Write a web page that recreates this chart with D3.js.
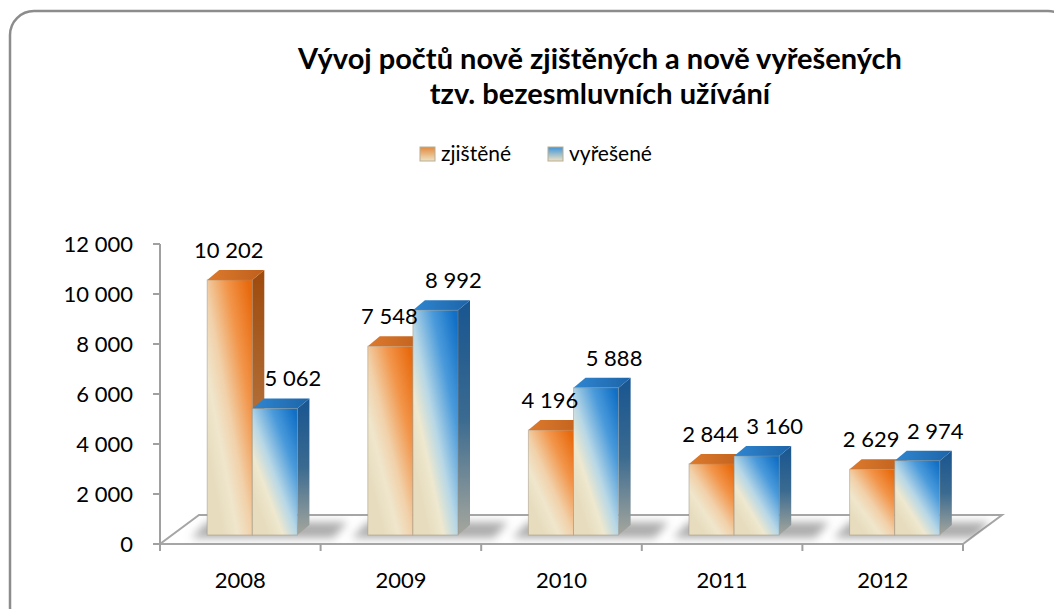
<!DOCTYPE html>
<html>
<head>
<meta charset="utf-8">
<script src="https://cdn.jsdelivr.net/npm/d3@7"></script>
<style>
  body { margin: 0; background: #fff; }
  svg text { font-family: Lato, "Open Sans", sans-serif; }
</style>
</head>
<body>
<div id="chart"></div>
<script>
// data
var years = ["2008", "2009", "2010", "2011", "2012"];
var series = ["zjištěné", "vyřešené"];
var zjistene = [10202, 7548, 4196, 2844, 2629];
var vyresene = [5062, 8992, 5888, 3160, 2974];
var yTicks = [0, 2000, 4000, 6000, 8000, 10000, 12000];
var titleLines = ["Vývoj počtů nově zjištěných a nově vyřešených", "tzv. bezesmluvních užívání"];

var W = 1054, H = 609;
var fmt = function(v){ return d3.format(",")(v).replace(/,/g, " "); };

var svg = d3.select("#chart").append("svg")
    .attr("width", W).attr("height", H);

var defs = svg.append("defs");

// gradients for the 3d bars
function grad(id, x1, y1, x2, y2, stops){
  var g = defs.append("linearGradient").attr("id", id)
    .attr("x1", x1).attr("y1", y1).attr("x2", x2).attr("y2", y2);
  stops.forEach(function(s){
    g.append("stop").attr("offset", s[0]).attr("stop-color", s[1]);
  });
}
grad("frontO", 0.9, 0, 0.15, 0.8, [[0, "#e86a0e"], [0.3, "#f2954a"], [0.6, "#f1d1aa"], [0.8, "#efe6cc"], [1, "#e7dcbe"]]);
grad("frontB", 0.9, 0, 0.15, 0.8, [[0, "#1170c6"], [0.3, "#4b9bdb"], [0.6, "#b7d7e6"], [0.8, "#eee8cf"], [1, "#e7dcbe"]]);
grad("sideO", 0, 0, 0, 1, [[0, "#9e4a0c"], [0.5, "#b06c34"], [1, "#b9af97"]]);
grad("sideB", 0, 0, 0, 1, [[0, "#185590"], [0.5, "#3a6a90"], [1, "#a6a79d"]]);
grad("topO", 0, 0, 1, 0, [[0, "#dc7a2e"], [1, "#bf5f1b"]]);
grad("topB", 0, 0, 1, 0, [[0, "#2f86d0"], [1, "#1d64a8"]]);
grad("legO", 0, 0, 0, 1, [[0, "#e2893c"], [1, "#efe3c4"]]);
grad("legB", 0, 0, 0, 1, [[0, "#3f94d8"], [1, "#efe3c4"]]);

defs.append("filter").attr("id", "blur")
  .attr("x", "-50%").attr("y", "-50%").attr("width", "200%").attr("height", "200%")
  .append("feGaussianBlur").attr("stdDeviation", 4);

// outer rounded frame (runs off the right and bottom edge)
svg.append("rect")
  .attr("x", 10).attr("y", 11).attr("width", 1062).attr("height", 620)
  .attr("rx", 24).attr("ry", 24)
  .attr("fill", "none").attr("stroke", "#8c8c8c").attr("stroke-width", 2.5);

// title
svg.append("text")
  .attr("x", 600).attr("y", 69)
  .attr("text-anchor", "middle")
  .style("font-size", "29px").style("font-weight", "bold")
  .selectAll("tspan").data(titleLines).enter().append("tspan")
    .attr("x", 600).attr("dy", function(d, i){ return i ? 35 : 0; })
    .text(function(d){ return d; });

// legend
var legX = [420, 548];
var legend = svg.append("g").selectAll("g").data(series).enter().append("g")
  .attr("transform", function(d, i){ return "translate(" + legX[i] + ",147)"; });
legend.append("rect")
  .attr("width", 15).attr("height", 14)
  .attr("fill", function(d, i){ return i ? "url(#legB)" : "url(#legO)"; })
  .attr("stroke", "#b8ad95").attr("stroke-width", 1);
legend.append("text")
  .attr("x", 21).attr("y", 14)
  .style("font-size", "21px")
  .text(function(d){ return d; });

// geometry of the plot: front plane + depth offset
var x0 = 160, x1 = 963, y0 = 544, yTop = 244;
var depthX = 39, depthY = -29;     // full floor depth
var barDX = 12, barDY = -9;        // bar front face sits this deep
var sideDX = 12, sideDY = -10;     // bar thickness in depth

var x = d3.scaleBand().domain(years).range([x0, x1]);
var inner = d3.scaleBand().domain(series).range([0, x.bandwidth()]).paddingOuter(0.78);
var y = d3.scaleLinear().domain([0, 12000]).range([y0, yTop]);

// floor
var floor = [[x0, y0], [x1, y0], [x1 + depthX, y0 + depthY], [x0 + depthX, y0 + depthY]];
svg.append("polygon")
  .attr("points", floor.join(" "))
  .attr("fill", "#fff").attr("stroke", "#a6a6a6").attr("stroke-width", 2);

defs.append("clipPath").attr("id", "floorClip")
  .append("polygon").attr("points", floor.join(" "));

// soft shadows of bar groups on the floor
var shadows = svg.append("g").attr("clip-path", "url(#floorClip)")
  .append("g").attr("filter", "url(#blur)");
years.forEach(function(yr){
  var gl = x(yr) + inner("zjištěné") + barDX;
  var gr = x(yr) + inner("vyřešené") + inner.bandwidth() + barDX;
  shadows.append("polygon")
    .attr("points", [[gl - 16, y0 - 6], [gr + 36, y0 - 6], [gr + 50, y0 - 22], [gl, y0 - 22]].join(" "))
    .attr("fill", "#777").attr("opacity", 0.6);
});

// axes
var axisColor = "#a0a0a0";
svg.append("line")
  .attr("x1", x0).attr("x2", x0).attr("y1", yTop).attr("y2", y0 + 3)
  .attr("stroke", axisColor).attr("stroke-width", 2);
svg.append("g").selectAll("line").data(yTicks).enter().append("line")
  .attr("x1", x0 - 7).attr("x2", x0)
  .attr("y1", function(d){ return y(d); }).attr("y2", function(d){ return y(d); })
  .attr("stroke", axisColor).attr("stroke-width", 2);
svg.append("g").selectAll("text").data(yTicks).enter().append("text")
  .attr("x", 133).attr("y", function(d){ return y(d) + 8; })
  .attr("text-anchor", "end")
  .style("font-size", "22px")
  .text(fmt);

var xEdges = years.map(function(d){ return x(d); }).concat([x1]);
svg.append("g").selectAll("line").data(xEdges).enter().append("line")
  .attr("x1", function(d){ return d; }).attr("x2", function(d){ return d; })
  .attr("y1", y0).attr("y2", y0 + 7)
  .attr("stroke", axisColor).attr("stroke-width", 2);
svg.append("g").selectAll("text").data(years).enter().append("text")
  .attr("x", function(d){ return x(d) + x.bandwidth() / 2; })
  .attr("y", 588)
  .attr("text-anchor", "middle")
  .style("font-size", "22px")
  .text(function(d){ return d; });

// bars
var rows = [];
years.forEach(function(yr, i){
  rows.push({year: yr, s: "zjištěné", v: zjistene[i], k: "O"});
  rows.push({year: yr, s: "vyřešené", v: vyresene[i], k: "B"});
});

var bw = inner.bandwidth();
var bars = svg.append("g").selectAll("g").data(rows).enter().append("g");
bars.each(function(d){
  var g = d3.select(this);
  var bx = x(d.year) + inner(d.s) + barDX;
  var bottom = y(0) + barDY;
  var top = y(d.v) + barDY;
  // side face
  g.append("polygon")
    .attr("points", [[bx + bw, top], [bx + bw + sideDX, top + sideDY], [bx + bw + sideDX, bottom + sideDY], [bx + bw, bottom]].join(" "))
    .attr("fill", "url(#side" + d.k + ")");
  // top face
  g.append("polygon")
    .attr("points", [[bx, top], [bx + sideDX, top + sideDY], [bx + bw + sideDX, top + sideDY], [bx + bw, top]].join(" "))
    .attr("fill", "url(#top" + d.k + ")");
  // front face
  g.append("rect")
    .attr("x", bx).attr("y", top).attr("width", bw).attr("height", bottom - top)
    .attr("fill", "url(#front" + d.k + ")")
    .attr("stroke", "rgba(150,140,120,0.45)").attr("stroke-width", 1);
});

// value labels
svg.append("g").selectAll("text").data(rows).enter().append("text")
  .attr("x", function(d){ return x(d.year) + inner(d.s) + barDX + bw / 2 + (d.k === "B" ? 18 : -1); })
  .attr("y", function(d){ return y(d.v) + barDY - 22; })
  .attr("text-anchor", "middle")
  .style("font-size", "22px")
  .text(function(d){ return fmt(d.v); });
</script>
</body>
</html>
